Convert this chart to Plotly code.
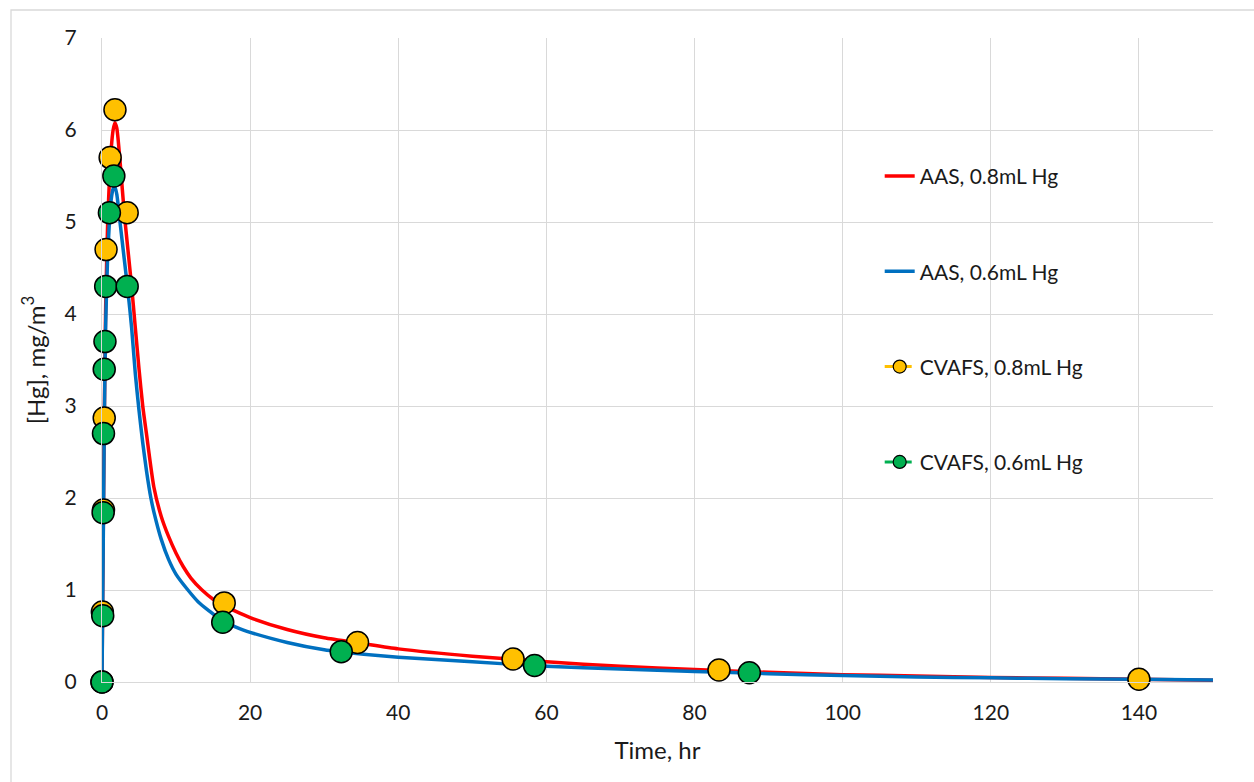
import plotly.graph_objects as go

# AAS continuous readings, 0.8 mL Hg injection
aas08_t = [0, 0.1, 0.2, 0.3, 0.4, 0.5, 0.75, 1.0, 1.25, 1.5, 1.75, 2.0, 2.5, 3.0, 3.5,
           4.0, 4.5, 5.0, 5.5, 6.0, 7.0, 8.0, 9.0, 10, 11, 12, 13.5, 15, 16.5, 18, 20,
           25, 30, 35, 40, 50, 60, 70, 80, 90, 100, 110, 120, 130, 140, 150]
aas08_c = [0, 1.0, 1.9, 2.8, 3.5, 4.1, 4.95, 5.45, 5.8, 6.0, 6.08, 6.02, 5.6, 5.1, 4.7,
           4.3, 3.85, 3.4, 3.0, 2.7, 2.12, 1.8, 1.58, 1.4, 1.25, 1.13, 1.0, 0.9, 0.83, 0.77, 0.70,
           0.57, 0.48, 0.42, 0.36, 0.28, 0.22, 0.17, 0.135, 0.105, 0.08, 0.065, 0.05, 0.04, 0.03, 0.02]

# AAS continuous readings, 0.6 mL Hg injection
aas06_t = [0, 0.1, 0.2, 0.3, 0.4, 0.5, 0.75, 1.0, 1.25, 1.5, 1.75, 2.0, 2.5, 3.0, 3.5,
           4.0, 4.5, 5.0, 5.5, 6.0, 6.6, 7.0, 8.0, 9.0, 10, 11.6, 13, 14.5, 16.3, 18, 20,
           25, 30, 32, 40, 50, 60, 70, 80, 90, 100, 110, 120, 130, 140, 150]
aas06_c = [0, 0.9, 1.8, 2.7, 3.4, 3.9, 4.6, 5.0, 5.25, 5.36, 5.38, 5.3, 4.95, 4.6, 4.25,
           3.85, 3.35, 2.95, 2.6, 2.3, 2.0, 1.85, 1.55, 1.33, 1.17, 1.0, 0.87, 0.77, 0.66, 0.6, 0.54,
           0.43, 0.35, 0.33, 0.27, 0.22, 0.17, 0.14, 0.115, 0.09, 0.07, 0.055, 0.045, 0.035, 0.03, 0.022]

# CVAFS discrete samples, 0.8 mL Hg
cv08_t = [0, 0.05, 0.2, 0.3, 0.55, 1.1, 1.75, 3.4, 16.5, 34.5, 55.5, 83.3, 140]
cv08_c = [0, 0.76, 1.87, 2.87, 4.7, 5.7, 6.22, 5.1, 0.86, 0.43, 0.25, 0.13, 0.03]

# CVAFS discrete samples, 0.6 mL Hg
cv06_t = [0, 0.1, 0.15, 0.2, 0.3, 0.4, 0.5, 1.0, 1.6, 3.4, 16.3, 32.3, 58.4, 87.4]
cv06_c = [0, 0.72, 1.84, 2.7, 3.4, 3.7, 4.3, 5.1, 5.5, 4.3, 0.65, 0.33, 0.18, 0.1]

x_ticks = [0, 20, 40, 60, 80, 100, 120, 140]
y_ticks = [0, 1, 2, 3, 4, 5, 6, 7]

FONT = "Lato"
TXT = "#1a1a1a"
GRID = "#D9D9D9"
TICK_SIZE = 21
TITLE_SIZE = 24

fig = go.Figure()

fig.add_trace(go.Scatter(
    x=aas08_t, y=aas08_c, mode="lines", name="AAS, 0.8mL Hg",
    line=dict(color="#FF0000", width=3.5, shape="spline", smoothing=0.6),
    legendgroup="g1"))
fig.add_trace(go.Scatter(
    x=aas06_t, y=aas06_c, mode="lines", name="AAS, 0.6mL Hg",
    line=dict(color="#0070C0", width=3.5, shape="spline", smoothing=0.6),
    legendgroup="g2"))

fig.add_trace(go.Scatter(
    x=cv08_t, y=cv08_c, mode="markers", showlegend=False, cliponaxis=False,
    marker=dict(color="#FFC000", size=22, line=dict(color="black", width=1.5)),
    legendgroup="g3"))
fig.add_trace(go.Scatter(
    x=cv06_t, y=cv06_c, mode="markers", showlegend=False, cliponaxis=False,
    marker=dict(color="#00B050", size=22, line=dict(color="black", width=1.5)),
    legendgroup="g4"))

# legend entries for the sample series (dashed line with circle symbol)
fig.add_trace(go.Scatter(
    x=[None], y=[None], mode="lines+markers", name="CVAFS, 0.8mL Hg",
    line=dict(color="#FFC000", width=3, dash="dash"),
    marker=dict(color="#FFC000", size=13, line=dict(color="black", width=1.2)),
    legendgroup="g3"))
fig.add_trace(go.Scatter(
    x=[None], y=[None], mode="lines+markers", name="CVAFS, 0.6mL Hg",
    line=dict(color="#00B050", width=3, dash="dash"),
    marker=dict(color="#00B050", size=13, line=dict(color="black", width=1.2)),
    legendgroup="g4"))

fig.update_layout(
    width=1254, height=782,
    margin=dict(l=102, r=41, t=38, b=100),
    paper_bgcolor="white", plot_bgcolor="white",
    font=dict(family=FONT, size=TICK_SIZE, color=TXT),
    legend=dict(x=0.70, y=0.817, xanchor="left", yanchor="top",
                bgcolor="rgba(255,255,255,0)", tracegroupgap=65,
                font=dict(family=FONT, size=TICK_SIZE, color=TXT)),
    xaxis=dict(range=[0, 150], tickvals=x_ticks, showgrid=True, gridcolor=GRID,
               gridwidth=1.3, zeroline=False, showline=True, linecolor=GRID,
               linewidth=1.3, ticks="", ticklabelstandoff=12,
               tickfont=dict(family=FONT, size=TICK_SIZE, color=TXT),
               title=dict(text="Time, hr", standoff=18,
                          font=dict(family=FONT, size=TITLE_SIZE, color=TXT))),
    yaxis=dict(range=[0, 7], tickvals=y_ticks, showgrid=True, gridcolor=GRID,
               gridwidth=1.3, zeroline=False, showline=True, linecolor=GRID,
               linewidth=1.3, ticks="", ticklabelstandoff=20,
               tickfont=dict(family=FONT, size=TICK_SIZE, color=TXT),
               title=dict(text="[Hg], mg/m<sup>3</sup>", standoff=12,
                          font=dict(family=FONT, size=TITLE_SIZE, color=TXT))),
    shapes=[dict(type="rect", xref="paper", yref="paper",
                 x0=-0.0819, x1=1.2, y0=-0.3, y1=1.0435,
                 line=dict(color=GRID, width=1.3), fillcolor="rgba(0,0,0,0)",
                 layer="below")],
)

fig.write_html("out.html")
